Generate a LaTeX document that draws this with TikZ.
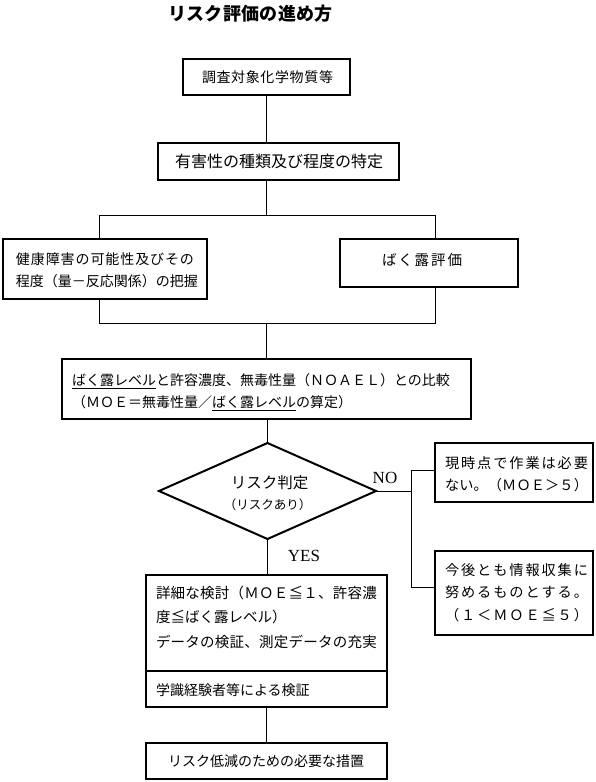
\documentclass[tikz,border=0pt]{standalone}
\usepackage{fontspec}
\setmainfont{Noto Sans CJK JP}
\newfontfamily\latinserif{Liberation Serif}
\usetikzlibrary{shapes.geometric}
\newcommand\jsp[2]{\hbox to #1{\jspA#2\relax}}
\def\jspA#1{#1\jspB}
\def\jspB#1{\ifx\relax#1\else\hfil#1\expandafter\jspB\fi}
\newcommand\fs[1]{\fontsize{#1}{#1}\selectfont}
\begin{document}
\begin{tikzpicture}[x=1pt,y=-1pt,
  box/.style={draw, rectangle, line width=2.4pt, inner sep=0pt, outer sep=0pt},
  conn/.style={line width=0.9pt},
  jt/.style={inner sep=0pt, outer sep=0pt, anchor=base west},
  jc/.style={inner sep=0pt, outer sep=0pt, anchor=base}]
\useasboundingbox (0,0) rectangle (595,782);

% title
\node[jc, font=\fs{18}\bfseries] (title) at (250.5,20.3) {\jsp{165pt}{リスク評価の進め方}};

% boxes
\node[box, minimum width=167pt, minimum height=36pt] (b1) at (266.5,77) {};
\node[box, minimum width=241pt, minimum height=37pt] (b2) at (278.5,161.5) {};
\node[box, minimum width=204pt, minimum height=60pt] (bl) at (105,269) {};
\node[box, minimum width=178pt, minimum height=48pt] (br) at (429,263) {};
\node[box, minimum width=409pt, minimum height=60pt] (bm) at (266.5,389) {};
\node[draw, diamond, line width=2pt, inner sep=0pt, outer sep=0pt,
      minimum width=217pt, minimum height=96pt] (d) at (267.5,491) {};
\node[box, minimum width=158pt, minimum height=59pt] (r1) at (514,472.5) {};
\node[box, minimum width=158pt, minimum height=84pt] (r2) at (514,593) {};
\node[box, minimum width=241pt, minimum height=96pt] (bt) at (266.5,623) {};
\node[box, minimum width=241pt, minimum height=36pt] (bb) at (266.5,689) {};
\node[box, minimum width=241pt, minimum height=36pt] (last) at (266.5,761) {};

% texts
\node[jc, font=\fs{14}] (t1) at (267.5,82.3) {\jsp{131pt}{調査対象化学物質等}};
\node[jc, font=\fs{16}] (t2) at (277.5,167.6) {\jsp{205pt}{有害性の種類及び程度の特定}};
\node[jt, font=\fs{14}] (tl1) at (16,264.3) {\jsp{178pt}{健康障害の可能性及びその}};
\node[jt, font=\fs{14}] (tl2) at (16,286.3) {\jsp{178pt}{程度（量－反応関係）の把握}};
\node[jc, font=\fs{14.5}] (tr) at (422,265.5) {\jsp{80pt}{ばく露評価}};
\node[jt, font=\fs{14}] (tm1) at (72,385.3) {\underline{ばく露レベル}と許容濃度、無毒性量（ＮＯＡＥＬ）との比較};
\node[jt, font=\fs{14}] (tm2) at (72,407.3) {（ＭＯＥ＝無毒性量／\underline{ばく露レベル}の算定）};
\node[jc, font=\fs{15.5}] (td1) at (269.5,488.9) {リスク判定};
\node[jc, font=\fs{12.5}] (td2) at (267.5,509.8) {（リスクあり）};
\node[jc, font=\fs{17}\latinserif] (no) at (385,483.6) {NO};
\node[jc, font=\fs{17}\latinserif] (yes) at (304,561.6) {YES};
\node[jt, font=\fs{14.2}] (ta1) at (445,468.4) {\jsp{143pt}{現時点で作業は必要}};
\node[jt, font=\fs{14.2}] (ta2) at (445,490.4) {\jsp{143pt}{ない。（ＭＯＥ＞５）}};
\node[jt, font=\fs{14.2}] (tb1) at (445,575.4) {\jsp{143pt}{今後とも情報収集に}};
\node[jt, font=\fs{14.2}] (tb2) at (445,597.4) {\jsp{143pt}{努めるものとする。}};
\node[jt, font=\fs{14.2}] (tb3) at (445,620.4) {\jsp{143pt}{（１＜ＭＯＥ≦５）}};
\node[jt, font=\fs{14.5}] (tc1) at (156,598.5) {\jsp{221pt}{詳細な検討（ＭＯＥ≦１、許容濃}};
\node[jt, font=\fs{14.5}] (tc2) at (156,622.5) {度≦ばく露レベル）};
\node[jt, font=\fs{14.5}] (tc3) at (156,647.5) {\jsp{221pt}{データの検証、測定データの充実}};
\node[jt, font=\fs{14}] (tc4) at (156,695.3) {学識経験者等による検証};
\node[jc, font=\fs{14}] (tlast) at (266,766.3) {リスク低減のための必要な措置};

% connector coordinates
\coordinate (j1) at (266.5,215);
\coordinate (jl1) at (99,215);
\coordinate (jr1) at (435,215);
\coordinate (j2) at (266.5,323);
\coordinate (jl2) at (99,323);
\coordinate (jr2) at (435,323);
\coordinate (jn) at (411,491);
\coordinate (n1) at (411,470);
\coordinate (n2) at (411,587);

% connectors
\draw[conn] (b1.south) -- (b1.south |- b2.north);
\draw[conn] (j1 |- b2.south) -- (j1);
\draw[conn] (jl1 |- bl.north) -- (jl1) -- (jr1) -- (jr1 |- br.north);
\draw[conn] (jl2 |- bl.south) -- (jl2) -- (jr2) -- (jr2 |- br.south);
\draw[conn] (j2) -- (j2 |- bm.north);
\draw[conn] (d.north |- bm.south) -- (d.north);
\draw[conn] (d.south) -- (d.south |- bt.north);
\draw[conn] (bb.south) -- (last.north);
\draw[conn] (d.east) -- (jn);
\draw[conn] (n1 -| r1.west) -- (n1) -- (n2) -- (n2 -| r2.west);
\end{tikzpicture}
\end{document}
